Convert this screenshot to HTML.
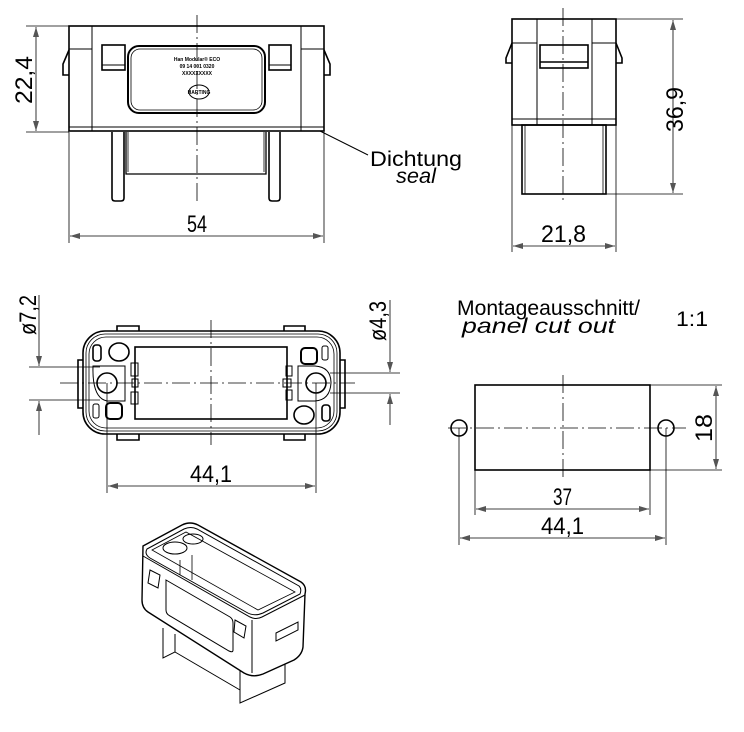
<!DOCTYPE html>
<html><head><meta charset="utf-8"><style>
html,body{margin:0;padding:0;background:#fff}
svg{display:block}
text{font-family:"Liberation Sans",sans-serif;fill:#000}
</style></head><body>
<svg width="744" height="732" viewBox="0 0 744 732" xmlns="http://www.w3.org/2000/svg">
<defs>
<marker id="a" viewBox="0 0 10 6" refX="10" refY="3" markerWidth="10" markerHeight="6" orient="auto-start-reverse" markerUnits="userSpaceOnUse"><path d="M0,0 L10,3 L0,6z" fill="#555"/></marker>
</defs>
<g fill="none" stroke="#000" stroke-width="1.6">
<rect x="69" y="26" width="255" height="105"/>
<line x1="92" y1="26" x2="92" y2="131" stroke-width="1"/>
<line x1="301" y1="26" x2="301" y2="131" stroke-width="1"/>
<line x1="69" y1="49" x2="92" y2="49" stroke-width="1"/>
<line x1="301" y1="49" x2="324" y2="49" stroke-width="1"/>
<line x1="69" y1="127" x2="324" y2="127" stroke-width="1"/>
<rect x="102" y="45" width="23" height="25"/><line x1="102" y1="65" x2="125" y2="65" stroke-width="1"/>
<rect x="269" y="45" width="22" height="25"/><line x1="269" y1="65" x2="291" y2="65" stroke-width="1"/>
<rect x="128" y="46" width="137" height="67" rx="11" stroke-width="2"/>
<rect x="131" y="49" width="131" height="61" rx="9" stroke-width="0.8"/>
<path d="M69,50 L63,64 L63,75 L69,75"/>
<path d="M324,50 L330,64 L330,75 L324,75"/>
<path d="M112,132 V198 Q112,201 115,201 H121 Q124,201 124,198 V132"/>
<path d="M269,132 V198 Q269,201 272,201 H277 Q280,201 280,198 V132"/>
<path d="M126,132 V174 H266 V132" stroke-width="1.3"/>
<line x1="128" y1="132" x2="128" y2="172" stroke-width="0.8"/>
<line x1="264" y1="132" x2="264" y2="172" stroke-width="0.8"/>
<ellipse cx="199" cy="92" rx="10" ry="7" stroke-width="1"/>
<rect x="512" y="19" width="104" height="106"/>
<line x1="537" y1="19" x2="537" y2="125" stroke-width="1"/>
<line x1="592" y1="19" x2="592" y2="125" stroke-width="1"/>
<line x1="512" y1="43" x2="537" y2="43" stroke-width="1"/>
<line x1="592" y1="43" x2="616" y2="43" stroke-width="1"/>
<line x1="512" y1="119" x2="616" y2="119" stroke-width="1"/>
<rect x="540" y="45" width="48" height="23"/><line x1="540" y1="62" x2="588" y2="62"/>
<path d="M512,43 L506,58 L506,63 L512,63"/>
<path d="M616,43 L622,58 L622,63 L616,63"/>
<rect x="522" y="125" width="84" height="69"/>
<line x1="525" y1="125" x2="525" y2="194" stroke-width="0.8"/>
<line x1="603" y1="125" x2="603" y2="194" stroke-width="0.8"/>
<rect x="83" y="331" width="257" height="103" rx="22"/>
<rect x="86" y="334" width="251" height="97" rx="19" stroke-width="0.8"/>
<rect x="89" y="337" width="245" height="91" rx="17" stroke-width="0.8"/>
<path d="M117,331 V326 H139 V331 M284,331 V326 H305 V331"/>
<path d="M117,434 V440 H139 V434 M284,434 V440 H305 V434"/>
<path d="M83,360 H78 V408 H83 M340,360 H345 V408 H340"/>
<rect x="135" y="347" width="152" height="72"/>
<circle cx="107" cy="383" r="10"/><circle cx="316" cy="383" r="10"/>
<path d="M125,366 H93 Q92,398 107,401 H125 Z" stroke-width="1"/>
<path d="M298,366 H315 Q331,367 331,383 Q330,400 315,401 H298 Z" stroke-width="1"/>
<ellipse cx="119" cy="352" rx="10" ry="9"/>
<ellipse cx="304" cy="415" rx="10" ry="9"/>
<rect x="106" y="403" width="16" height="16" rx="4" stroke-width="2"/>
<rect x="301" y="348" width="16" height="16" rx="4" stroke-width="2"/>
<rect x="93" y="345" width="8" height="16" rx="3"/>
<rect x="322" y="405" width="8" height="16" rx="3"/>
<rect x="93" y="404" width="6" height="14" rx="2" stroke-width="1"/>
<rect x="322" y="346" width="6" height="14" rx="2" stroke-width="1"/>
<rect x="131" y="363" width="7" height="13" stroke-width="1"/><rect x="131" y="392" width="7" height="12" stroke-width="1"/><rect x="132" y="379" width="6" height="8" stroke-width="1"/>
<rect x="286" y="366" width="6" height="10" stroke-width="1"/><rect x="286" y="390" width="6" height="10" stroke-width="1"/><rect x="283" y="379" width="8" height="8" stroke-width="1"/>
<rect x="475" y="385" width="175" height="85"/>
<circle cx="459" cy="428" r="8"/><circle cx="666" cy="428" r="8"/>
<path d="M143,546 L182,525 Q190,521 198,525 L301,582 Q307,586 305,594 L303,647 Q302,655 294,660 L263,674 Q253,678 244,673 L148,612 Q142,608 142,600 Z" stroke-width="1.4"/>
<path d="M147,549 L184,529 Q191,526 197,529 L299,586 Q302,589 300,594 L263,613 Q254,617 246,612 L150,558 Q144,554 147,549 Z" stroke-width="1"/>
<path d="M152,550 L186,532 L295,592 L258,610 Z" stroke-width="0.8"/>
<path d="M143,556 L250,617 Q256,620 262,617 L305,595" stroke-width="1"/>
<line x1="252" y1="620" x2="252" y2="673" stroke-width="1"/>
<path d="M166,580 L230,617 Q233,619 233,623 V650 Q233,653 229,651 L170,616 Q166,614 166,610 Z" stroke-width="1"/>
<path d="M150,570 L160,575 L158,588 L148,583 Z" stroke-width="1"/>
<path d="M235,620 L246,626 L244,638 L234,632 Z" stroke-width="1"/>
<path d="M276,633 L298,622 L298,630 L276,641 Z" stroke-width="1"/>
<path d="M163,628 V658 L175,652 V634" stroke-width="1"/>
<path d="M240,670 V703 L285,683 V664" stroke-width="1"/>
<line x1="175" y1="652" x2="240" y2="690" stroke-width="1"/>
<ellipse cx="175" cy="548" rx="12" ry="6" stroke-width="1"/>
<ellipse cx="193" cy="539" rx="10" ry="5" stroke-width="1"/>
<line x1="180" y1="560" x2="180" y2="575" stroke-width="0.8"/><line x1="192" y1="555" x2="192" y2="580" stroke-width="0.8"/>
</g>
<g stroke="#000" stroke-width="0.8" stroke-dasharray="18,4,2,4" fill="none">
<line x1="197" y1="15" x2="197" y2="202"/>
<line x1="563" y1="8" x2="563" y2="204"/>
<line x1="211" y1="320" x2="211" y2="445"/>
<line x1="60" y1="383" x2="355" y2="383"/>
<line x1="563" y1="375" x2="563" y2="478"/>
<line x1="448" y1="428" x2="686" y2="428"/>
</g>
<g stroke="#000" stroke-width="0.8" fill="none">
<line x1="26" y1="26" x2="69" y2="26"/><line x1="26" y1="132" x2="69" y2="132"/>
<line x1="36" y1="27" x2="36" y2="131" marker-start="url(#a)" marker-end="url(#a)"/>
<line x1="69" y1="132" x2="69" y2="243"/><line x1="324" y1="132" x2="324" y2="243"/>
<line x1="70" y1="236" x2="323" y2="236" marker-start="url(#a)" marker-end="url(#a)"/>
<line x1="320" y1="131" x2="368" y2="155" stroke-width="1"/>
<line x1="616" y1="19" x2="683" y2="19"/><line x1="606" y1="194" x2="683" y2="194"/>
<line x1="673" y1="20" x2="673" y2="193" marker-start="url(#a)" marker-end="url(#a)"/>
<line x1="512" y1="125" x2="512" y2="252"/><line x1="616" y1="125" x2="616" y2="252"/>
<line x1="513" y1="246" x2="615" y2="246" marker-start="url(#a)" marker-end="url(#a)"/>
<line x1="29" y1="367" x2="100" y2="367"/><line x1="29" y1="400" x2="100" y2="400"/>
<line x1="39" y1="295" x2="39" y2="366" marker-end="url(#a)"/><line x1="39" y1="435" x2="39" y2="401" marker-end="url(#a)"/>
<line x1="330" y1="373" x2="400" y2="373"/><line x1="330" y1="393" x2="400" y2="393"/>
<line x1="390" y1="300" x2="390" y2="372" marker-end="url(#a)"/><line x1="390" y1="425" x2="390" y2="394" marker-end="url(#a)"/>
<line x1="107" y1="383" x2="107" y2="493"/><line x1="316" y1="383" x2="316" y2="493"/>
<line x1="108" y1="486" x2="315" y2="486" marker-start="url(#a)" marker-end="url(#a)"/>
<line x1="650" y1="385" x2="722" y2="385"/><line x1="650" y1="470" x2="722" y2="470"/>
<line x1="716" y1="386" x2="716" y2="469" marker-start="url(#a)" marker-end="url(#a)"/>
<line x1="475" y1="470" x2="475" y2="515"/><line x1="650" y1="470" x2="650" y2="515"/>
<line x1="476" y1="509" x2="649" y2="509" marker-start="url(#a)" marker-end="url(#a)"/>
<line x1="459" y1="428" x2="459" y2="545"/><line x1="666" y1="428" x2="666" y2="545"/>
<line x1="460" y1="538" x2="665" y2="538" marker-start="url(#a)" marker-end="url(#a)"/>
</g>
<g font-size="24">
<text x="187" y="232" textLength="20" lengthAdjust="spacingAndGlyphs">54</text>
<text x="541" y="242" textLength="45" lengthAdjust="spacingAndGlyphs">21,8</text>
<text x="190" y="482" textLength="42" lengthAdjust="spacingAndGlyphs">44,1</text>
<text x="553" y="505" textLength="19" lengthAdjust="spacingAndGlyphs">37</text>
<text x="541" y="534" textLength="43" lengthAdjust="spacingAndGlyphs">44,1</text>
<text transform="translate(32,104) rotate(-90)" textLength="48" lengthAdjust="spacingAndGlyphs">22,4</text>
<text transform="translate(683,132) rotate(-90)" textLength="45" lengthAdjust="spacingAndGlyphs">36,9</text>
<text transform="translate(36,335) rotate(-90)" textLength="40" lengthAdjust="spacingAndGlyphs">ø7,2</text>
<text transform="translate(386,341) rotate(-90)" textLength="40" lengthAdjust="spacingAndGlyphs">ø4,3</text>
<text transform="translate(712,442) rotate(-90)" textLength="28" lengthAdjust="spacingAndGlyphs">18</text>
</g>
<g font-size="21">
<text x="370" y="166" textLength="92" lengthAdjust="spacingAndGlyphs">Dichtung</text>
<text x="396" y="183" font-style="italic" textLength="40" lengthAdjust="spacingAndGlyphs">seal</text>
<text x="457" y="315" textLength="183" lengthAdjust="spacingAndGlyphs">Montageausschnitt/</text>
<text x="462" y="333" font-style="italic" textLength="153" lengthAdjust="spacingAndGlyphs">panel cut out</text>
<text x="676" y="326" textLength="32" lengthAdjust="spacingAndGlyphs">1:1</text>
</g>
<g font-size="5" text-anchor="middle" font-weight="bold">
<text x="197" y="61">Han Modular® ECO</text>
<text x="197" y="68">09 14 001 0320</text>
<text x="197" y="75">XXXXXXXXX</text>
<text x="199" y="94">HARTING</text>
</g>
</svg>
</body></html>
